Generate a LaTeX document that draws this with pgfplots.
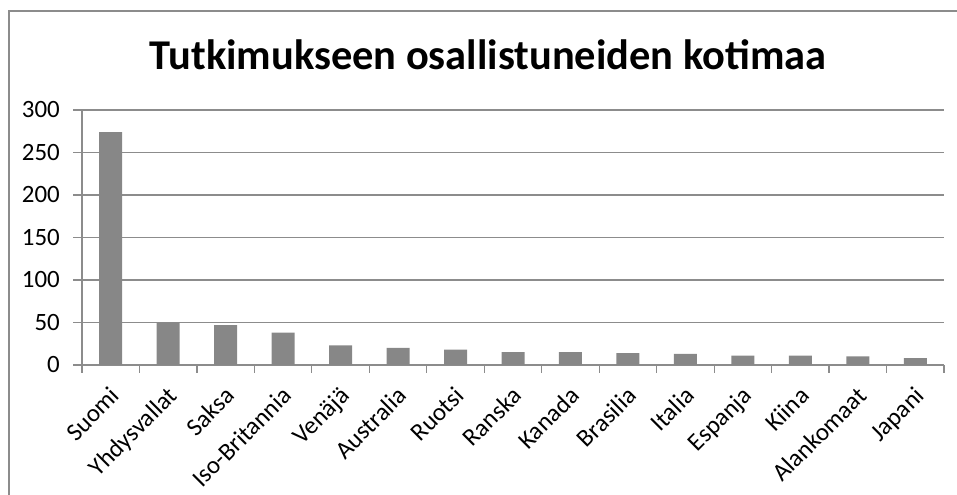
\documentclass[border=0pt]{standalone}
\usepackage{pgfplots}
\pgfplotsset{compat=1.18}
\usepackage{fontspec}
\setmainfont{Carlito}
\definecolor{bargray}{HTML}{878787}
\definecolor{axgray}{HTML}{8C8C8C}
\begin{document}
\begin{tikzpicture}[x=1bp,y=1bp]
\useasboundingbox (0,0) rectangle (957,495);
\begin{scope}
\clip (0,0) rectangle (957,495);
\draw[axgray, line width=2bp] (9,-10) -- (9,484) -- (970,484);
\end{scope}
\node[anchor=base, font=\fontsize{42.6}{50}\selectfont\bfseries] at (488,425) {Tutkimukseen osallistuneiden kotimaa};
\begin{axis}[
  at={(82bp,130bp)}, anchor=south west,
  scale only axis, width=862bp, height=255bp,
  xmin=-0.5, xmax=14.5, ymin=0, ymax=300,
  ytick={0,50,...,300},
  xtick={0,...,14},
  xticklabels={Suomi,Yhdysvallat,Saksa,Iso-Britannia,Venäjä,Australia,Ruotsi,Ranska,Kanada,Brasilia,Italia,Espanja,Kiina,Alankomaat,Japani},
  minor xtick={-0.5,0.5,...,14.5},
  axis x line=bottom, axis y line=left,
  axis line style={axgray, line width=1.2bp, -},
  ymajorgrids, grid style={axgray, line width=1.2bp},
  major tick length=0pt,
  minor tick length=8bp,
  tick style={axgray, line width=1.2bp},
  minor tick style={axgray, line width=1.2bp},
  extra y ticks={0,50,...,300}, extra y tick labels={},
  extra y tick style={major tick length=9bp, tick align=outside, grid=none},
  xtick align=outside,
  /pgf/number format/assume math mode=true,
  tick label style={font=\fontsize{25}{30}\selectfont, text=black},
  yticklabel style={anchor=east, inner sep=0pt, xshift=-22bp},
  xticklabel style={xshift=-2bp, yshift=-20bp, rotate=45, anchor=north east, inner sep=0pt},
  ybar, bar width=23bp,
  clip=false,
]
\addplot[fill=bargray, draw=none] coordinates {
(0,274) (1,50) (2,47) (3,38) (4,23) (5,20) (6,18) (7,15) (8,15) (9,14) (10,13) (11,11) (12,11) (13,10) (14,8)
};
\end{axis}
\end{tikzpicture}
\end{document}
